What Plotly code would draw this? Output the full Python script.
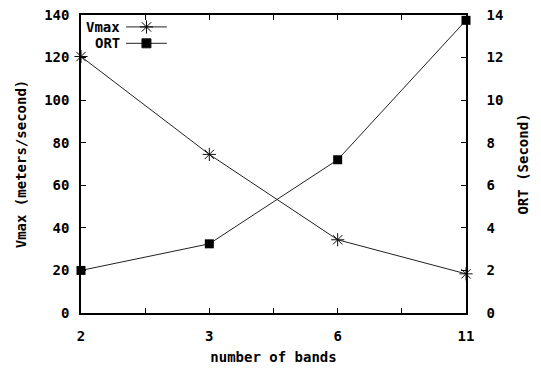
import plotly.graph_objects as go

bands = ["2", "3", "6", "11"]
vmax = [120.5, 74.5, 34.4, 18.4]
ort = [2.0, 3.25, 7.2, 13.75]

left_ticks = [0, 20, 40, 60, 80, 100, 120, 140]
right_ticks = [0, 2, 4, 6, 8, 10, 12, 14]

xpos = list(range(len(bands)))
FONT = dict(family="DejaVu Sans Mono", size=14, color="black", weight="bold")

fig = go.Figure()
fig.add_trace(go.Scatter(x=xpos, y=vmax, mode="lines+markers", name="Vmax",
                         line=dict(color="#222", width=1),
                         marker=dict(symbol="asterisk-open", size=11, color="#111",
                                     line=dict(width=1, color="#111")),
                         yaxis="y", showlegend=False, cliponaxis=False))
fig.add_trace(go.Scatter(x=xpos, y=ort, mode="lines+markers", name="ORT",
                         line=dict(color="#222", width=1),
                         marker=dict(symbol="square", size=9, color="black"),
                         yaxis="y2", showlegend=False, cliponaxis=False))

# legend samples (text left, symbol right) on a hidden helper axis
leg_names = ["Vmax", "ORT"]
leg_symbols = ["asterisk-open", "square"]
leg_sizes = [11, 9]
leg_y = [0.960, 0.905]
for name, sym, sz, yy in zip(leg_names, leg_symbols, leg_sizes, leg_y):
    fig.add_trace(go.Scatter(x=[0.117, 0.223], y=[yy, yy], mode="lines",
                             line=dict(color="#222", width=1), xaxis="x3", yaxis="y3",
                             showlegend=False, hoverinfo="skip"))
    fig.add_trace(go.Scatter(x=[0.170], y=[yy], mode="markers",
                             marker=dict(symbol=sym, size=sz, color="black",
                                         line=dict(width=1, color="#111")),
                             xaxis="x3", yaxis="y3", showlegend=False, hoverinfo="skip"))
    fig.add_annotation(x=0.106, y=yy, xref="x3", yref="y3", text=name,
                       showarrow=False, xanchor="right", yanchor="middle", font=FONT)

fig.update_layout(
    width=541, height=369,
    margin=dict(l=81, r=75, t=15, b=56),
    paper_bgcolor="white", plot_bgcolor="white",
    font=FONT,
    xaxis=dict(range=[0, 3], tickvals=xpos, ticktext=bands, showgrid=False,
               zeroline=False, showline=True, linecolor="black", linewidth=1.5,
               mirror="ticks", ticks="inside", ticklen=5, tickcolor="black",
               minor=dict(ticks="inside", dtick=0.5, tick0=0, ticklen=5, tickcolor="black"),
               ticklabelstandoff=9, automargin=False,
               title=dict(text="number of bands", font=FONT, standoff=10),
               tickfont=FONT),
    yaxis=dict(range=[0, 140], tickvals=left_ticks, showgrid=False, zeroline=False,
               showline=True, linecolor="black", linewidth=1.5, ticks="inside",
               ticklen=5, tickcolor="black", ticklabelstandoff=7, automargin=False,
               title=dict(text="Vmax (meters/second)", font=FONT, standoff=14),
               tickfont=FONT),
    yaxis2=dict(range=[0, 14], tickvals=right_ticks, overlaying="y", side="right",
                showgrid=False, zeroline=False, showline=True, linecolor="black",
                linewidth=1.5, ticks="inside", ticklen=5, tickcolor="black",
                ticklabelstandoff=16, automargin=False,
                title=dict(text="ORT (Second)", font=FONT, standoff=16),
                tickfont=FONT),
    xaxis3=dict(overlaying="x", range=[0, 1], visible=False),
    yaxis3=dict(overlaying="y", range=[0, 1], visible=False),
)

fig.write_html("out.html")
